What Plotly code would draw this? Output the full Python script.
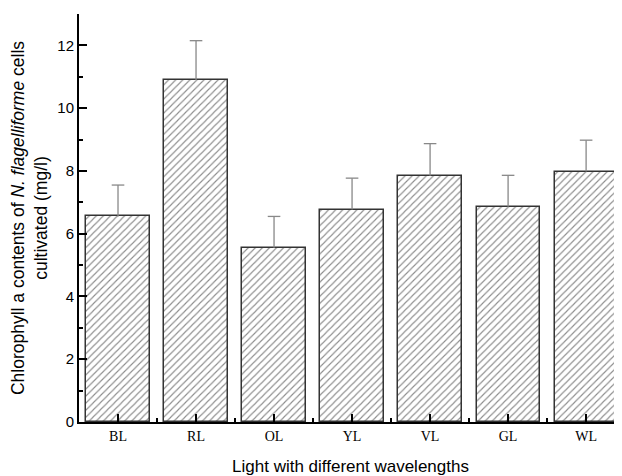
import plotly.graph_objects as go

categories = ["BL", "RL", "OL", "YL", "VL", "GL", "WL"]
values = [6.55, 10.9, 5.55, 6.77, 7.85, 6.86, 7.98]
errors = [1.0, 1.25, 1.0, 1.0, 1.02, 1.0, 1.0]
y_ticks = [0, 2, 4, 6, 8, 10, 12]

xpos = list(range(len(categories)))
tops = [v + e for v, e in zip(values, errors)]

fig = go.Figure()
fig.add_trace(go.Bar(
    x=xpos, y=values, width=0.81,
    marker=dict(color="white",
                line=dict(color="#333333", width=1.5),
                pattern=dict(shape="/", fgcolor="#1a1a1a", bgcolor="white",
                             size=5, solidity=0.22)),
    error_y=dict(type="data", array=errors, arrayminus=[0]*len(errors),
                 symmetric=False, color="#888888", thickness=1.3, width=0),
    showlegend=False,
))
fig.add_trace(go.Scatter(
    x=xpos, y=tops, mode="markers",
    marker=dict(symbol="line-ew-open", size=9, color="#888888",
                line=dict(color="#888888", width=1.3)),
    showlegend=False, hoverinfo="skip",
))

fig.update_layout(
    width=614, height=468,
    margin=dict(l=71, r=0, t=6, b=54),
    plot_bgcolor="white", paper_bgcolor="white",
    bargap=0,
    xaxis=dict(
        range=[-0.5, 6.46], automargin=False,
        tickvals=xpos, ticktext=categories,
        tickfont=dict(family="Liberation Serif", size=14, color="black"),
        ticks="inside", ticklen=8, tickwidth=1.5, tickcolor="black",
        minor=dict(tick0=0.5, dtick=1, ticks="inside", ticklen=4, tickwidth=1.5, tickcolor="black"),
        showline=True, linecolor="black", linewidth=2,
        showgrid=False, zeroline=False,
        title=dict(text="Light with different wavelengths",
                   font=dict(family="Liberation Sans", size=17, color="black"), standoff=18),
    ),
    yaxis=dict(
        range=[0, 13], automargin=False,
        tickvals=y_ticks,
        tickfont=dict(family="Liberation Sans", size=15, color="black"),
        ticks="inside", ticklen=8, tickwidth=1.5, tickcolor="black",
        minor=dict(dtick=1, ticks="inside", ticklen=4, tickwidth=1.5, tickcolor="black"),
        showline=True, linecolor="black", linewidth=2,
        showgrid=False, zeroline=False,
        title=dict(text="Chlorophyll a contents of <i>N. flagelliforme</i> cells<br>cultivated (mg/l)",
                   font=dict(family="Liberation Sans", size=17.5, color="black"), standoff=5),
    ),
)

fig.write_html("out.html")
